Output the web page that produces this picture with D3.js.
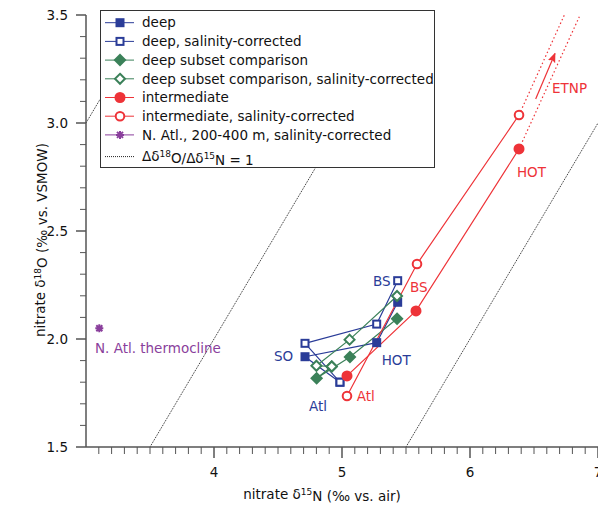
<!DOCTYPE html>
<html>
<head>
<meta charset="utf-8">
<script src="https://cdn.jsdelivr.net/npm/d3@7"></script>
<style>
  body { margin: 0; background: #fff; }
  svg { display: block; font-family: "DejaVu Sans", sans-serif; }
</style>
</head>
<body>
<svg id="chart" width="598" height="506"></svg>
<script>
// basins in plotting order for the deep series
const deepBasins = ["BS", "HOT", "SO", "Atl"];
const deepN = [5.435, 5.271, 4.711, 4.984];
const deepO = [2.170, 1.983, 1.918, 1.800];
const deepCorrN = [5.435, 5.271, 4.711, 4.984];
const deepCorrO = [2.270, 2.069, 1.980, 1.800];

const subsetN = [5.430, 5.062, 4.802, 4.920];
const subsetO = [2.094, 1.917, 1.818, 1.873];
const subsetCorrN = [5.430, 5.059, 4.800, 4.920];
const subsetCorrO = [2.199, 1.997, 1.876, 1.873];

// intermediate waters
const interBasins = ["Atl", "BS", "HOT"];
const interN = [5.039, 5.578, 6.383];
const interO = [1.829, 2.130, 2.880];
const interCorrN = [5.039, 5.586, 6.383];
const interCorrO = [1.736, 2.347, 3.037];

// dotted extension toward ETNP (from HOT, uncorrected / corrected)
const etnpEndN = [6.854, 6.737];
const etnpEndO = [3.492, 3.500];
const arrowN = [6.513, 6.664];
const arrowO = [3.111, 3.322];

const nAtlN = [3.104];
const nAtlO = [2.050];

// 1:1 lines, d18O = d15N + intercept
const ratioIntercepts = [0, -2, -4];

const xTicks = [4, 5, 6, 7];
const yTicks = [1.5, 2.0, 2.5, 3.0, 3.5];

const labels = [
  { text: "BS", n: 5.242, o: 2.245, c: "blue" },
  { text: "HOT", n: 5.310, o: 1.880, c: "blue" },
  { text: "SO", n: 4.469, o: 1.898, c: "blue" },
  { text: "Atl", n: 4.742, o: 1.667, c: "blue" },
  { text: "Atl", n: 5.115, o: 1.713, c: "red" },
  { text: "BS", n: 5.531, o: 2.218, c: "red" },
  { text: "HOT", n: 6.367, o: 2.750, c: "red" },
  { text: "ETNP", n: 6.641, o: 3.139, c: "red" },
  { text: "N. Atl. thermocline", n: 3.070, o: 1.935, c: "purple" }
];

const colors = {
  blue: "#2a3c98",
  green: "#3b8159",
  red: "#ee3338",
  purple: "#8a3f9c"
};

const svg = d3.select("#chart");
const x = d3.scaleLinear().domain([3, 7]).range([86, 598]);
const y = d3.scaleLinear().domain([1.5, 3.5]).range([447, 15]);
const fontSize = "13.5px";

svg.append("clipPath").attr("id", "plot")
  .append("rect").attr("x", 86).attr("y", 15).attr("width", 512).attr("height", 432);

// 1:1 reference lines
svg.append("g").attr("clip-path", "url(#plot)")
  .selectAll("line")
  .data(ratioIntercepts)
  .join("line")
  .attr("x1", d => x(3)).attr("y1", d => y(3 + d))
  .attr("x2", d => x(7)).attr("y2", d => y(7 + d))
  .attr("stroke", "#222")
  .attr("stroke-width", 1)
  .attr("stroke-dasharray", "1,1");

const zip = (a, b) => a.map((v, i) => [v, b[i]]);
const line = d3.line().x(d => x(d[0])).y(d => y(d[1]));

function drawSeries(pts, color) {
  svg.append("path")
    .attr("d", line(pts))
    .attr("fill", "none")
    .attr("stroke", color)
    .attr("stroke-width", 1.2);
}

// marker shapes
function marker(g, type, color) {
  if (type === "squareFill") {
    g.append("rect").attr("x", -4.5).attr("y", -4.5).attr("width", 9).attr("height", 9).attr("fill", color);
  } else if (type === "squareOpen") {
    g.append("rect").attr("x", -3.5).attr("y", -3.5).attr("width", 7).attr("height", 7)
      .attr("fill", "#fff").attr("stroke", color).attr("stroke-width", 2);
  } else if (type === "diamondFill") {
    g.append("path").attr("d", "M0,-6.5L6.5,0L0,6.5L-6.5,0Z").attr("fill", color);
  } else if (type === "diamondOpen") {
    g.append("path").attr("d", "M0,-5L5,0L0,5L-5,0Z")
      .attr("fill", "#fff").attr("stroke", color).attr("stroke-width", 2);
  } else if (type === "circleFill") {
    g.append("circle").attr("r", 5.5).attr("fill", color);
  } else if (type === "circleOpen") {
    g.append("circle").attr("r", 4.3).attr("fill", "#fff").attr("stroke", color).attr("stroke-width", 2);
  } else if (type === "star") {
    g.append("path").attr("d", "M-4,0H4M0,-4V4M-3,-3L3,3M-3,3L3,-3")
      .attr("stroke", color).attr("stroke-width", 2).attr("fill", "none");
  }
}

function drawMarkers(pts, type, color) {
  pts.forEach(p => {
    const g = svg.append("g").attr("transform", `translate(${x(p[0])},${y(p[1])})`);
    marker(g, type, color);
  });
}

const series = [
  { pts: zip(deepN, deepO), type: "squareFill", c: colors.blue },
  { pts: zip(deepCorrN, deepCorrO), type: "squareOpen", c: colors.blue },
  { pts: zip(subsetN, subsetO), type: "diamondFill", c: colors.green },
  { pts: zip(subsetCorrN, subsetCorrO), type: "diamondOpen", c: colors.green },
  { pts: zip(interN, interO), type: "circleFill", c: colors.red },
  { pts: zip(interCorrN, interCorrO), type: "circleOpen", c: colors.red },
  { pts: zip(nAtlN, nAtlO), type: "star", c: colors.purple }
];

// ETNP dotted extensions
const hotIdx = interBasins.indexOf("HOT");
[[interN[hotIdx], interO[hotIdx]], [interCorrN[hotIdx], interCorrO[hotIdx]]].forEach((p, i) => {
  svg.append("line")
    .attr("x1", x(p[0])).attr("y1", y(p[1]))
    .attr("x2", x(etnpEndN[i])).attr("y2", y(etnpEndO[i]))
    .attr("stroke", colors.red).attr("stroke-width", 1.2)
    .attr("stroke-dasharray", "1.5,2.5");
});

// arrow
svg.append("defs").append("marker")
  .attr("id", "arrowhead")
  .attr("viewBox", "0 0 10 10")
  .attr("refX", 9).attr("refY", 5)
  .attr("markerWidth", 10).attr("markerHeight", 10)
  .attr("markerUnits", "userSpaceOnUse")
  .attr("orient", "auto")
  .append("path").attr("d", "M0,1L10,5L0,9L2,5Z").attr("fill", colors.red);

svg.append("line")
  .attr("x1", x(arrowN[0])).attr("y1", y(arrowO[0]))
  .attr("x2", x(arrowN[1])).attr("y2", y(arrowO[1]))
  .attr("stroke", colors.red).attr("stroke-width", 1.2)
  .attr("marker-end", "url(#arrowhead)");

series.forEach(s => { if (s.pts.length > 1) drawSeries(s.pts, s.c); });
series.forEach(s => drawMarkers(s.pts, s.type, s.c));

// point labels
svg.append("g").selectAll("text")
  .data(labels)
  .join("text")
  .attr("x", d => x(d.n))
  .attr("y", d => y(d.o))
  .attr("fill", d => colors[d.c])
  .style("font-size", fontSize)
  .text(d => d.text);

// legend
const legendItems = [
  { label: "deep", type: "squareFill", c: colors.blue },
  { label: "deep, salinity-corrected", type: "squareOpen", c: colors.blue },
  { label: "deep subset comparison", type: "diamondFill", c: colors.green },
  { label: "deep subset comparison, salinity-corrected", type: "diamondOpen", c: colors.green },
  { label: "intermediate", type: "circleFill", c: colors.red },
  { label: "intermediate, salinity-corrected", type: "circleOpen", c: colors.red },
  { label: "N. Atl., 200-400 m, salinity-corrected", type: "star", c: colors.purple },
  { label: null, type: "ratio", c: "#222" }
];

const legend = svg.append("g");
legend.append("rect")
  .attr("x", 100.5).attr("y", 10.5).attr("width", 334).attr("height", 157)
  .attr("fill", "#fff").attr("stroke", "#333").attr("stroke-width", 1);

legendItems.forEach((it, i) => {
  const ly = 22.7 + i * 18.7 + (i === 7 ? 3 : 0);
  const row = legend.append("g").attr("transform", `translate(0,${ly})`);
  row.append("line")
    .attr("x1", 105).attr("x2", 134).attr("y1", 0).attr("y2", 0)
    .attr("stroke", it.c).attr("stroke-width", 1)
    .attr("stroke-dasharray", it.type === "ratio" ? "1,1" : null);
  if (it.type !== "ratio") {
    marker(row.append("g").attr("transform", "translate(120,0)"), it.type, it.c);
  }
  const t = row.append("text").attr("x", 142).attr("dy", "0.35em").style("font-size", fontSize).attr("fill", "#111");
  if (it.label) {
    t.text(it.label);
  } else {
    t.append("tspan").text("Δδ");
    t.append("tspan").attr("dy", "-0.45em").style("font-size", "9px").text("18");
    t.append("tspan").attr("dy", "0.45em").text("O/Δδ");
    t.append("tspan").attr("dy", "-0.45em").style("font-size", "9px").text("15");
    t.append("tspan").attr("dy", "0.45em").text("N = 1");
  }
});

// axes
const axisColor = "#555";
const ax = svg.append("g");
ax.append("line").attr("x1", x(3)).attr("x2", x(7)).attr("y1", y(1.5)).attr("y2", y(1.5))
  .attr("stroke", axisColor).attr("stroke-width", 1.5);
ax.append("line").attr("x1", x(3)).attr("x2", x(3)).attr("y1", y(1.5)).attr("y2", y(3.5))
  .attr("stroke", axisColor).attr("stroke-width", 1.5);

const xMinor = d3.range(31, 70).map(v => v / 10).filter(v => !xTicks.includes(v));
const yMinor = d3.range(16, 35).map(v => v / 10).filter(v => !yTicks.some(t => Math.abs(t - v) < 1e-9));

ax.selectAll(".xminor").data(xMinor).join("line")
  .attr("x1", d => x(d)).attr("x2", d => x(d))
  .attr("y1", y(1.5)).attr("y2", y(1.5) + 7)
  .attr("stroke", axisColor).attr("stroke-width", 1);
ax.selectAll(".xmajor").data(xTicks).join("line")
  .attr("x1", d => x(d)).attr("x2", d => x(d))
  .attr("y1", y(1.5)).attr("y2", y(1.5) + 11)
  .attr("stroke", axisColor).attr("stroke-width", 1.5);
ax.selectAll(".xlab").data(xTicks).join("text")
  .attr("x", d => x(d)).attr("y", 477)
  .attr("text-anchor", "middle").style("font-size", fontSize).attr("fill", "#111")
  .text(d => d);

ax.selectAll(".yminor").data(yMinor).join("line")
  .attr("x1", x(3) - 6).attr("x2", x(3))
  .attr("y1", d => y(d)).attr("y2", d => y(d))
  .attr("stroke", axisColor).attr("stroke-width", 1);
ax.selectAll(".ymajor").data(yTicks).join("line")
  .attr("x1", x(3) - 10).attr("x2", x(3))
  .attr("y1", d => y(d)).attr("y2", d => y(d))
  .attr("stroke", axisColor).attr("stroke-width", 1.5);
ax.selectAll(".ylab").data(yTicks).join("text")
  .attr("x", 68).attr("y", d => y(d)).attr("dy", "0.36em")
  .attr("text-anchor", "end").style("font-size", fontSize).attr("fill", "#111")
  .text(d => d.toFixed(1));

// axis titles
const xt = svg.append("text").attr("x", 322).attr("y", 499).attr("text-anchor", "middle")
  .style("font-size", fontSize).attr("fill", "#111");
xt.append("tspan").text("nitrate δ");
xt.append("tspan").attr("dy", "-0.45em").style("font-size", "9px").text("15");
xt.append("tspan").attr("dy", "0.45em").text("N (‰ vs. air)");

const yt = svg.append("text").attr("transform", "translate(45,240) rotate(-90)").attr("text-anchor", "middle")
  .style("font-size", fontSize).attr("fill", "#111");
yt.append("tspan").text("nitrate δ");
yt.append("tspan").attr("dy", "-0.45em").style("font-size", "9px").text("18");
yt.append("tspan").attr("dy", "0.45em").text("O (‰ vs. VSMOW)");
</script>
</body>
</html>
